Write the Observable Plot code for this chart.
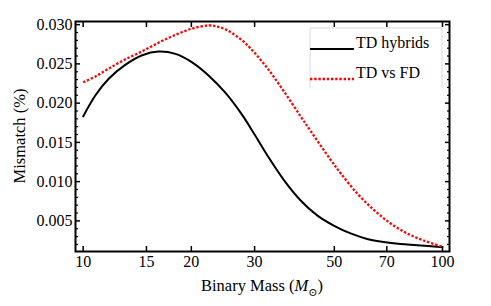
<!DOCTYPE html>
<html>
<head>
<meta charset="utf-8">
<script src="https://cdn.jsdelivr.net/npm/d3@7"></script>
<script src="https://cdn.jsdelivr.net/npm/@observablehq/plot@0.6"></script>
<style>
  html, body { margin: 0; padding: 0; background: #fff; }
  #chart { width: 491px; height: 306px; }
  #chart svg, #chart svg text { font-family: "Liberation Serif", "Times New Roman", Times, "DejaVu Serif", serif !important; }
</style>
</head>
<body>
<div id="chart"></div>
<script>
// Binary mass (solar masses)
const massHybrid = [10, 10.82, 11.78, 13.12, 14.6, 16.2, 18.07, 20.1, 22.37, 24.9, 27.7, 30, 32.5, 36.2, 40.3, 44.8, 49.8, 55.5, 61.7, 68.6, 76.4, 85.1, 100];
const mismatchHybrid = [0.0183, 0.0210, 0.0231, 0.0249, 0.0261, 0.02657, 0.02627, 0.0252, 0.0235, 0.0213, 0.0185, 0.0160, 0.0134, 0.0102, 0.0076, 0.0057, 0.0044, 0.0034, 0.0027, 0.0023, 0.00205, 0.0019, 0.00165];

const massTDFD = [10, 10.82, 11.78, 13.12, 14.6, 16.2, 18.07, 20.1, 22.37, 23.6, 24.9, 26.2, 27.7, 29.2, 32.5, 36.2, 40.3, 42.9, 48.8, 52.0, 57.9, 64.4, 71.6, 79.7, 88.7, 100];
const mismatchTDFD = [0.02266, 0.0234, 0.0244, 0.0256, 0.0266, 0.0277, 0.0287, 0.0295, 0.0299, 0.02975, 0.0294, 0.0288, 0.0280, 0.0270, 0.0245, 0.0215, 0.0183, 0.0165, 0.0128, 0.0111, 0.0085, 0.0064, 0.0047, 0.0034, 0.0025, 0.0017];

const xTicks = [10, 15, 20, 30, 50, 70, 100];
const yTicks = [0.005, 0.010, 0.015, 0.020, 0.025, 0.030];
const yMinorTicks = [0.002, 0.003, 0.004, 0.006, 0.007, 0.008, 0.009, 0.011, 0.012, 0.013, 0.014, 0.016, 0.017, 0.018, 0.019, 0.021, 0.022, 0.023, 0.024, 0.026, 0.027, 0.028, 0.029];
const seriesNames = ["TD hybrids", "TD vs FD"];

const hybrid = massHybrid.map((m, i) => ({mass: m, mismatch: mismatchHybrid[i]}));
const tdfd = massTDFD.map((m, i) => ({mass: m, mismatch: mismatchTDFD[i]}));

const FONT = "Liberation Serif";
const blank = () => "";

const plot = Plot.plot({
  width: 491,
  height: 306,
  marginLeft: 75,
  marginRight: 42,
  marginTop: 21,
  marginBottom: 55,
  style: {fontFamily: FONT, fontSize: "16px", background: "#fff", color: "#000"},
  x: {type: "log", domain: [9.52, 104.6]},
  y: {domain: [0.0011, 0.0304]},
  marks: [
    Plot.line(hybrid, {x: "mass", y: "mismatch", stroke: "#000", strokeWidth: 2, curve: "catmull-rom"}),
    Plot.line(tdfd, {x: "mass", y: "mismatch", stroke: "#ff0000", strokeWidth: 2.3, strokeDasharray: "2.4,1.8", strokeLinecap: "butt", curve: "catmull-rom"}),
    // labels
    Plot.axisX({anchor: "bottom", ticks: xTicks, tickSize: 0, tickPadding: 4, tickFormat: d => String(d), label: null, fontSize: 16}),
    Plot.axisY({anchor: "left", ticks: yTicks, tickSize: 0, tickPadding: 3, tickFormat: d3.format(".3f"), label: null, fontSize: 16}),
    // inward ticks
    Plot.axisX({anchor: "bottom", ticks: xTicks, tickSize: -5, tickFormat: blank, label: null, strokeWidth: 1.5}),
    Plot.axisX({anchor: "top", ticks: xTicks, tickSize: -5, tickFormat: blank, label: null, strokeWidth: 1.5}),
    Plot.axisY({anchor: "left", ticks: yTicks, tickSize: -5, tickFormat: blank, label: null, strokeWidth: 1.5}),
    Plot.axisY({anchor: "right", ticks: yTicks, tickSize: -5, tickFormat: blank, label: null, strokeWidth: 1.5}),
    Plot.axisY({anchor: "left", ticks: yMinorTicks, tickSize: -3, tickFormat: blank, label: null, strokeWidth: 1.2}),
    Plot.axisY({anchor: "right", ticks: yMinorTicks, tickSize: -3, tickFormat: blank, label: null, strokeWidth: 1.2}),
    Plot.frame({stroke: "#000", strokeWidth: 2})
  ]
});

document.getElementById("chart").appendChild(plot);

const svg = d3.select(plot);

// x axis label
const xl = svg.append("text")
  .attr("x", 262).attr("y", 290.5)
  .attr("text-anchor", "middle")
  .attr("font-size", 16.5).attr("fill", "#000");
xl.append("tspan").text("Binary Mass (");
xl.append("tspan").attr("font-style", "italic").text("M");
xl.append("tspan").attr("dy", 5).attr("font-size", 11).text("⊙");
xl.append("tspan").attr("dy", -5).text(")");

// y axis label
svg.append("text")
  .attr("transform", "translate(24.5,136) rotate(-90)")
  .attr("text-anchor", "middle")
  .attr("font-size", 16.5).attr("fill", "#000")
  .text("Mismatch (%)");

// legend
const lg = svg.append("g").attr("text-anchor", "start");
lg.append("rect").attr("x", 310).attr("y", 28).attr("width", 132).attr("height", 60).attr("fill", "#fff");
lg.append("path").attr("d", "M310,88V28H442V88").attr("fill", "none").attr("stroke", "#d9d9d9").attr("stroke-width", 1);
lg.append("line").attr("x1", 310).attr("x2", 354).attr("y1", 49).attr("y2", 49).attr("stroke", "#000").attr("stroke-width", 2);
lg.append("line").attr("x1", 310).attr("x2", 354).attr("y1", 79).attr("y2", 79).attr("stroke", "#ff0000").attr("stroke-width", 2.3).attr("stroke-dasharray", "2.4,1.8");
lg.append("text").attr("x", 356).attr("y", 48).attr("text-anchor", "start").attr("font-size", 16).attr("fill", "#000").text(seriesNames[0]);
lg.append("text").attr("x", 356).attr("y", 78).attr("text-anchor", "start").attr("font-size", 16).attr("fill", "#000").text(seriesNames[1]);
</script>
</body>
</html>
